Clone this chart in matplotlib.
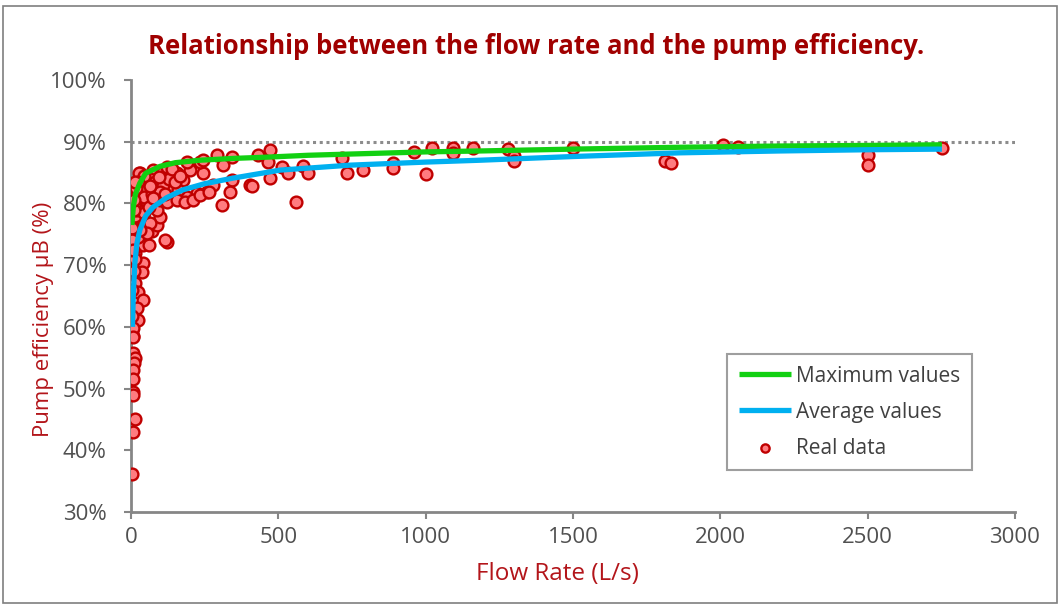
import matplotlib
matplotlib.use("Agg")
import matplotlib.pyplot as plt
from matplotlib.patches import Rectangle
from matplotlib.ticker import FuncFormatter

plt.rcParams['font.family'] = ['Open Sans', 'DejaVu Sans']

# fitted curves
max_x = [3, 8, 15, 30, 50, 98, 150, 234, 350, 461, 600, 743, 1000, 1184, 1500, 1863, 2200, 2500, 2752]
max_y = [76.5, 79.5, 81.5, 83.3, 84.9, 86.0, 86.6, 87.0, 87.3, 87.5, 87.8, 88.0, 88.35, 88.5, 88.8, 89.1, 89.3, 89.4, 89.5]

avg_x = [5, 8, 13, 20, 30, 50, 75, 120, 176, 250, 346, 506, 743, 1000, 1184, 1500, 1863, 2200, 2500, 2752]
avg_y = [60.0, 65.5, 70.3, 73.5, 75.7, 78.0, 79.4, 80.9, 82.2, 83.2, 84.1, 85.4, 86.2, 86.7, 87.0, 87.6, 88.2, 88.5, 88.7, 88.8]

# measured points
real_x = [5, 6, 7, 14, 10, 8, 7, 6, 7, 14, 7, 5,
          8, 40, 61, 14, 40, 37, 14, 24, 40, 20, 24, 3, 8, 8,
          5, 10, 12, 18, 25, 30, 20, 3, 12, 22, 15, 35, 45, 50, 60, 70, 88, 98, 64, 54, 30, 122, 115,
          14, 54, 88, 20, 54, 88, 143, 224, 258, 190, 30, 75, 122, 156, 200, 244, 27, 105, 122, 190, 234,
          176, 159, 98, 122, 156, 183, 210, 40, 65, 80, 110, 130, 150, 35, 45, 70, 100, 60, 75, 95, 140,
          165, 45, 25, 18, 10, 65, 115, 2, 4, 6, 9, 12,
          292, 343, 244, 312, 431, 472, 465, 512, 533, 584, 600, 343, 278, 234, 265, 336, 404, 411, 472,
          309, 560, 716, 733, 787, 889, 889, 960, 1001, 1021, 1093, 1093, 1160, 1279, 1300, 1300, 1500,
          1812, 1832, 2009, 2060, 2501, 2501, 2752]
real_y = [59.5, 58.5, 55.8, 55.0, 54.1, 53.0, 51.6, 49.4, 49.0, 45.1, 43.0, 36.2,
          73.8, 73.3, 73.3, 72.0, 70.3, 68.9, 67.1, 65.7, 64.4, 63.0, 61.1, 61.8, 59.8, 58.4,
          66.0, 69.0, 71.0, 75.0, 74.5, 76.0, 77.0, 77.0, 78.0, 79.0, 80.0, 79.0, 78.5, 77.0, 76.5, 75.5, 76.5, 77.8, 76.8, 75.2, 75.7, 73.8, 74.0,
          80.1, 80.0, 78.9, 81.7, 82.2, 82.2, 82.7, 81.7, 81.9, 81.0, 85.0, 85.4, 84.9, 85.0, 85.4, 85.0, 84.9, 85.0, 85.9, 86.7, 86.7,
          83.8, 82.2, 80.5, 80.2, 80.6, 80.2, 80.6, 83.0, 84.0, 83.5, 83.0, 84.0, 83.5, 82.0, 81.0, 81.5, 81.8, 79.5, 80.8, 84.3, 85.5,
          84.5, 84.5, 83.5, 82.5, 79.0, 82.8, 81.5, 76.0, 74.0, 72.5, 80.5, 83.5,
          87.9, 87.5, 87.0, 86.2, 87.9, 88.7, 86.7, 85.9, 85.0, 86.0, 85.0, 83.8, 83.0, 81.4, 81.9, 81.9, 83.0, 82.8, 84.1,
          79.8, 80.2, 87.4, 85.0, 85.4, 86.6, 85.8, 88.3, 84.8, 89.0, 89.0, 88.2, 89.0, 88.9, 87.7, 86.8, 89.0,
          86.8, 86.6, 89.4, 89.2, 87.8, 86.2, 89.0]

x_ticks = [0, 500, 1000, 1500, 2000, 2500, 3000]
y_ticks = [30, 40, 50, 60, 70, 80, 90, 100]
ref_level = 90

W, H = 1061, 606
fig = plt.figure(figsize=(W / 100, H / 100), dpi=100)
ax = fig.add_axes([131 / W, 1 - 512 / H, (1015 - 131) / W, (512 - 80) / H])

gray = '#868686'
label_red = '#b3151a'

ax.scatter(real_x, real_y, s=72, facecolor='#ff7c80', edgecolor='#c00000',
           linewidth=1.7, zorder=3, label='Real data')
ax.plot(max_x, max_y, color='#12d012', linewidth=3.8, zorder=4, label='Maximum values',
        solid_capstyle='butt')
ax.plot(avg_x, avg_y, color='#00b0f0', linewidth=3.8, zorder=4, label='Average values',
        solid_capstyle='butt')
ax.axhline(ref_level, color='#8c8c8c', linestyle=(0, (1, 1.2)), linewidth=2.2, zorder=2)

ax.set_xlim(0, 3000)
ax.set_ylim(30, 100)
ax.set_xticks(x_ticks)
ax.set_yticks(y_ticks)
ax.yaxis.set_major_formatter(FuncFormatter(lambda v, p: f'{v:.0f}%'))

for s in ['top', 'right']:
    ax.spines[s].set_visible(False)
for s in ['left', 'bottom']:
    ax.spines[s].set_color(gray)
    ax.spines[s].set_linewidth(2)
ax.tick_params(direction='out', length=5, width=1.5, color=gray,
               labelsize=16, labelcolor='#505050')
ax.tick_params(axis='y', pad=12.5)
ax.tick_params(axis='x', pad=6)

ax.set_xlabel('Flow Rate (L/s)', fontsize=17.5, color=label_red)
ax.set_ylabel('Pump efficiency µB (%)', fontsize=16, color=label_red)
ax.xaxis.set_label_coords(0.482, -0.115)
ax.yaxis.set_label_coords(-0.087, 0.445)

handles, labels = ax.get_legend_handles_labels()
order = [labels.index('Maximum values'), labels.index('Average values'), labels.index('Real data')]
leg = ax.legend([handles[i] for i in order], [labels[i] for i in order],
                loc='lower right', bbox_to_anchor=(0.951, 0.097), borderaxespad=0,
                fontsize=15, frameon=True, fancybox=False, handlelength=2.5,
                handletextpad=0.25, labelspacing=0.72, borderpad=0.55, markerscale=0.7)
leg.get_frame().set_edgecolor(gray)
leg.get_frame().set_linewidth(1.5)
for t in leg.get_texts():
    t.set_color('#404040')

fig.text(0.505, 1 - 47 / H, 'Relationship between the flow rate and the pump efficiency.',
         ha='center', va='center', fontsize=18.5, fontweight='bold', color='#a00000')

fig.patches.append(Rectangle((3 / W, 3 / H), 1 - 7 / W, 1 - 9 / H, transform=fig.transFigure,
                             fill=False, edgecolor='#7f7f7f', linewidth=1.2))

fig.savefig('out.png', dpi=100)
